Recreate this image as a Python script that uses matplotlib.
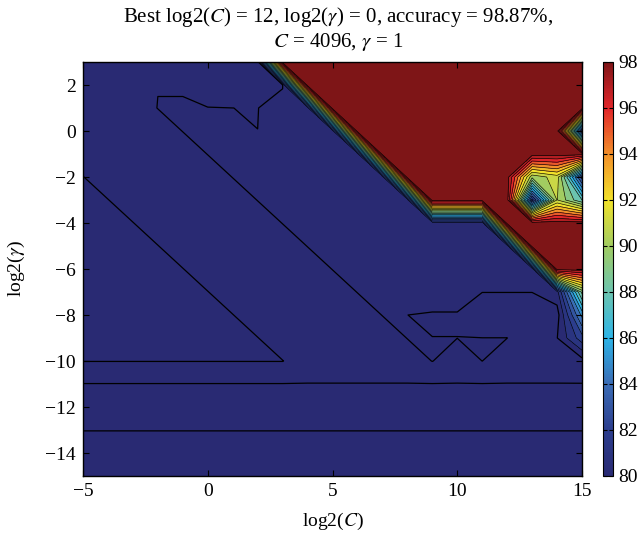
import numpy as np
import matplotlib
matplotlib.use("Agg")
import matplotlib.pyplot as plt
from matplotlib.colors import LinearSegmentedColormap, Normalize
from matplotlib.cm import ScalarMappable

plt.rcParams['font.family'] = ['Liberation Serif', 'DejaVu Serif']
plt.rcParams['mathtext.fontset'] = 'stix'

# grid search axes
log2c = np.arange(-5, 16)            # 21 values
log2g = np.arange(3, -16, -1)        # 19 values, top row first

# cross-validation accuracy (%), one row per log2(gamma), from 3 down to -15
acc = [
    [79.5, 79.5, 79.5, 79.5, 79.5, 79.5, 79.5, 79.5, 98.5, 98.5, 98.5, 98.5, 98.5, 98.5, 98.5, 98.5, 98.5, 98.5, 98.5, 98.5, 98.5],
    [79.5, 79.5, 79.5, 79.98, 79.98, 79.5, 79.5, 79.5, 79.9, 98.5, 98.5, 98.5, 98.5, 98.5, 98.5, 98.5, 98.5, 98.5, 98.5, 98.5, 98.5],
    [79.5, 79.5, 79.5, 80.02, 80.02, 80.02, 80.001, 79.98, 80.5, 80.5, 98.5, 98.5, 98.5, 98.5, 98.5, 98.5, 98.5, 98.5, 98.5, 98.5, 98.5],
    [79.5, 79.5, 79.5, 79.5, 80.02, 80.5, 80.5, 80.002, 80.5, 80.5, 80.5, 98.5, 98.5, 98.5, 98.5, 98.5, 98.5, 98.5, 98.5, 98.5, 81.5],
    [79.5, 79.5, 79.5, 79.5, 79.5, 80.02, 80.5, 80.5, 80.5, 80.5, 80.5, 80.5, 98.5, 98.5, 98.5, 98.5, 98.5, 98.5, 98.5, 98.5, 98.5],
    [80.02, 79.5, 79.5, 79.5, 79.5, 79.5, 80.02, 80.5, 80.5, 80.5, 80.5, 80.5, 80.5, 98.5, 98.5, 98.5, 98.5, 98.5, 90.3, 91.5, 82.5],
    [80.02, 80.02, 79.5, 79.5, 79.5, 79.5, 79.5, 80.02, 80.5, 80.5, 80.5, 80.5, 80.5, 80.5, 98.5, 98.5, 98.5, 98.5, 81.5, 91.05, 88.0],
    [80.02, 80.02, 80.02, 79.5, 79.5, 79.5, 79.5, 79.5, 80.02, 80.5, 80.5, 80.5, 80.5, 80.5, 80.5, 80.5, 80.5, 98.5, 98.5, 98.5, 98.5],
    [80.02, 80.02, 80.02, 80.02, 79.5, 79.5, 79.5, 79.5, 79.5, 80.02, 80.5, 80.5, 80.5, 80.5, 80.5, 80.5, 80.5, 80.5, 98.5, 98.5, 98.5],
    [80.02, 80.02, 80.02, 80.02, 80.02, 79.5, 79.5, 79.5, 79.5, 79.5, 80.02, 80.5, 80.5, 80.5, 80.5, 80.5, 80.5, 80.5, 80.5, 98.5, 98.5],
    [80.02, 80.02, 80.02, 80.02, 80.02, 80.02, 79.5, 79.5, 79.5, 79.5, 79.5, 80.02, 80.5, 80.5, 80.5, 80.5, 80.01, 80.01, 80.01, 80.6, 89.3],
    [80.02, 80.02, 80.02, 80.02, 80.02, 80.02, 80.02, 79.5, 79.5, 79.5, 79.5, 79.5, 80.02, 80.002, 79.925, 79.925, 79.5, 79.5, 79.5, 79.55, 85.3],
    [80.02, 80.02, 80.02, 80.02, 80.02, 80.02, 80.02, 80.02, 79.5, 79.5, 79.5, 79.5, 79.5, 80.02, 80.005, 80.005, 80.005, 80.005, 79.5, 79.97, 82.6],
    [80.02, 80.02, 80.02, 80.02, 80.02, 80.02, 80.02, 80.02, 80.02, 79.5, 79.5, 79.5, 79.5, 79.5, 80.02, 79.5, 80.005, 79.5, 79.5, 79.5, 79.6],
    [78.98, 78.98, 78.98, 78.98, 78.98, 78.98, 78.98, 78.98, 78.98, 78.98, 78.98, 78.98, 78.98, 78.98, 78.98, 78.98, 78.98, 78.98, 78.98, 78.98, 78.98],
    [78.98, 78.98, 78.98, 78.98, 78.98, 78.98, 78.98, 78.98, 78.98, 78.98, 78.98, 78.98, 78.98, 78.98, 78.98, 78.98, 78.98, 78.98, 78.98, 78.98, 78.98],
    [78.98, 78.98, 78.98, 78.98, 78.98, 78.98, 78.98, 78.98, 78.98, 78.98, 78.98, 78.98, 78.98, 78.98, 78.98, 78.98, 78.98, 78.98, 78.98, 78.98, 78.98],
    [79.5, 79.5, 79.5, 79.5, 79.5, 79.5, 79.5, 79.5, 79.5, 79.5, 79.5, 79.5, 79.5, 79.5, 79.5, 79.5, 79.5, 79.5, 79.5, 79.5, 79.5],
    [79.5, 79.5, 79.5, 79.5, 79.5, 79.5, 79.5, 79.5, 79.5, 79.5, 79.5, 79.5, 79.5, 79.5, 79.5, 79.5, 79.5, 79.5, 79.5, 79.5, 79.5],
]

best_c, best_g, best_acc = 12, 0, 98.87
cbar_ticks = [80, 82, 84, 86, 88, 90, 92, 94, 96, 98]

# colour map
cpos = [80, 82, 84, 86, 88, 90, 92, 94, 96, 97, 98]
ccol = ['#292a73', '#2c3e8e', '#3b6db6', '#2db4e7', '#6cc4af', '#a1cc62',
        '#f2e22a', '#f3902a', '#e1262a', '#b31e22', '#7e1517']
cmap = LinearSegmentedColormap.from_list(
    'acc', [((p - 80) / 18.0, c) for p, c in zip(cpos, ccol)])
norm = Normalize(80, 98)

Z = np.array(acc)
X, Y = np.meshgrid(log2c, log2g)

levels = [70] + list(range(79, 99)) + [100]
# each filled band takes the colour of its lower level (clipped to 80..98)
fill_cols = [cmap(norm(min(max(l, 80), 98))) for l in levels[:-1]]

fig = plt.figure(figsize=(6.44, 5.39), dpi=100)
ax = fig.add_axes([83/644, 1 - 476/539, 499/644, 414/539])
cax = fig.add_axes([603/644, 1 - 476/539, 10/644, 414/539])

ax.contourf(X, Y, Z, levels=levels, colors=fill_cols)
ax.contour(X, Y, Z, levels=[79, 80], colors='k', linewidths=0.9)
ax.contour(X, Y, Z, levels=list(range(81, 99)), colors='k', linewidths=0.45)

ax.set_xlim(-5, 15)
ax.set_ylim(-15, 3)
ax.set_xticks([-5, 0, 5, 10, 15])
ax.set_yticks([2, 0, -2, -4, -6, -8, -10, -12, -14])
ax.tick_params(direction='in', top=True, right=True, length=4, width=0.8,
               labelsize=14, pad=5)
for s in ax.spines.values():
    s.set_linewidth(1.0)

ax.set_xlabel('log2($C$)', fontsize=14)
ax.set_ylabel('log2($\\gamma$)', fontsize=14)
ax.xaxis.set_label_coords(0.5, -0.085)
ax.yaxis.set_label_coords(-0.112, 0.5)

title = ('Best log2($C$) = %d, log2($\\gamma$) = %d, accuracy = %.2f%%,\n'
         '$C$ = %d, $\\gamma$ = %d' % (best_c, best_g, best_acc,
                                      2 ** best_c, 2 ** best_g))
fig.text(338/644, 1 - 29/539, title, ha='center', va='center',
         fontsize=15, linespacing=1.1)

cb = fig.colorbar(ScalarMappable(norm=norm, cmap=cmap), cax=cax,
                  ticks=cbar_ticks)
cb.outline.set_linewidth(0.8)
cax.tick_params(direction='in', left=True, right=True, length=3,
                width=0.8, labelsize=14, pad=4)

fig.savefig('out.png', dpi=100)
